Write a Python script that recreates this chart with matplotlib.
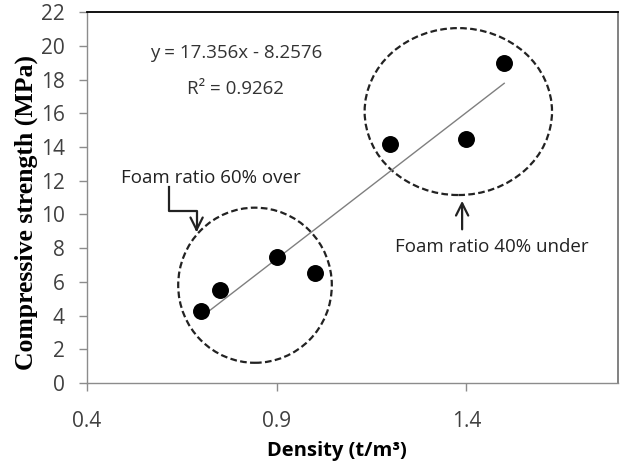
import numpy as np
import matplotlib
matplotlib.use('Agg')
import matplotlib.pyplot as plt
from matplotlib.patches import Ellipse

# 데이터
density = [0.70, 0.75, 0.90, 1.00, 1.20, 1.40, 1.50]
strength = [4.3, 5.5, 7.5, 6.5, 14.2, 14.5, 19.0]
slope, intercept = 17.356, -8.2576
eq_text = 'y = 17.356x - 8.2576'
r2_text = 'R² = 0.9262'
x_ticks = [0.4, 0.9, 1.4]
y_ticks = list(range(0, 23, 2))

plt.rcParams['font.family'] = ['Open Sans', 'DejaVu Sans']

fig = plt.figure(figsize=(6.23, 4.65), dpi=100)
ax = fig.add_axes([0.1396, 0.1763, 0.8524, 0.7977])

# 추세선 (데이터 범위)
xl = np.array([min(density), max(density)])
ax.plot(xl, slope * xl + intercept, color='#7f7f7f', lw=1.0, zorder=2)
ax.scatter(density, strength, s=125, color='black', zorder=3)

# 점선 원
ax.add_patch(Ellipse((0.843, 5.8), 0.405, 9.2, fill=False, ls=(0, (3, 1.5)),
                     lw=1.6, color='#222222', zorder=1))
ax.add_patch(Ellipse((1.379, 16.1), 0.494, 9.9, fill=False, ls=(0, (3, 1.5)),
                     lw=1.6, color='#222222', zorder=1))

# 회귀식
ax.text(0.792, 19.57, eq_text, ha='center', va='center', fontsize=13.5, color='#333333')
ax.text(0.792, 17.44, r2_text, ha='center', va='center', fontsize=13.5, color='#333333')

# 주석
ax.text(0.726, 12.16, 'Foam ratio 60% over', ha='center', va='center', fontsize=13.5, color='#222222')
ax.plot([0.616, 0.616, 0.689, 0.689], [11.6, 10.2, 10.2, 9.3], color='#222222', lw=1.6)
ax.annotate('', xy=(0.689, 8.78), xytext=(0.689, 9.4),
            arrowprops=dict(arrowstyle='->', color='#222222', lw=1.6, mutation_scale=22))
ax.text(1.466, 8.07, 'Foam ratio 40% under', ha='center', va='center', fontsize=13.5, color='#222222')
ax.annotate('', xy=(1.389, 10.97), xytext=(1.389, 8.95),
            arrowprops=dict(arrowstyle='->', color='#222222', lw=1.6, mutation_scale=22))

ax.set_xlim(0.4, 1.8)
ax.set_ylim(0, 22)
ax.set_xticks(x_ticks)
ax.set_xticklabels([str(v) for v in x_ticks])
ax.set_yticks(y_ticks)

for s in ['left', 'bottom']:
    ax.spines[s].set_color('#8c8c8c')
    ax.spines[s].set_linewidth(1.0)
ax.spines['top'].set_color('black')
ax.spines['top'].set_linewidth(1.3)
ax.spines['right'].set_color('#777777')
ax.spines['right'].set_linewidth(1.3)

ax.tick_params(axis='both', colors='#8c8c8c', labelcolor='#404040', labelsize=15,
               length=6, width=1.0, direction='out')
ax.tick_params(axis='x', pad=14)
ax.tick_params(axis='y', pad=10)

ax.set_xlabel('Density (t/m³)', fontsize=14.5, fontweight='bold', color='black')
ax.xaxis.set_label_coords(0.471, -0.155)
ax.set_ylabel('Compressive strength (MPa)', fontsize=18.5, fontweight='bold',
              family='Liberation Serif', color='black')
ax.yaxis.set_label_coords(-0.092, 0.461)

fig.savefig('out.png', dpi=100)
